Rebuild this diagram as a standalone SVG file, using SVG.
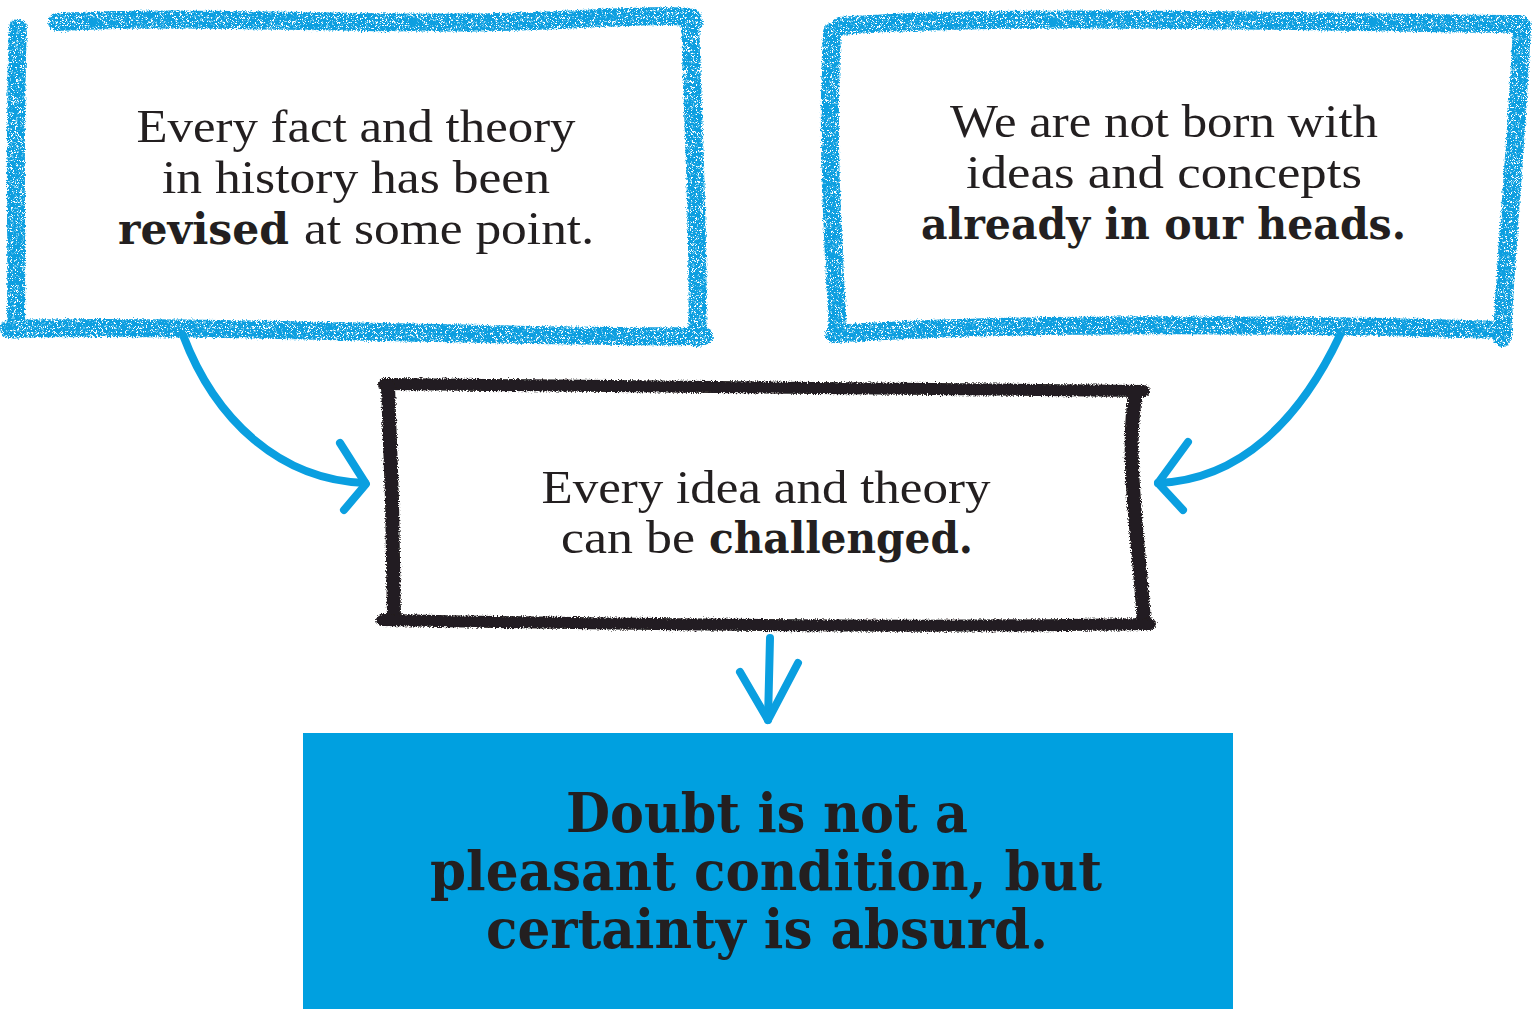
<svg xmlns="http://www.w3.org/2000/svg" width="1536" height="1009" viewBox="0 0 1536 1009">
<defs>
<filter id="rough" x="-5%" y="-5%" width="110%" height="110%">
<feTurbulence type="fractalNoise" baseFrequency="0.8" numOctaves="2" seed="3" result="n"/>
<feColorMatrix in="n" type="matrix" values="0 0 0 0 0  0 0 0 0 0  0 0 0 0 0  10 0 0 0 -3.6" result="m"/>
<feComposite in="SourceGraphic" in2="m" operator="in" result="s"/>
<feDisplacementMap in="s" in2="n" scale="5" xChannelSelector="R" yChannelSelector="G"/>
</filter>
<filter id="roughk" x="-5%" y="-5%" width="110%" height="110%">
<feTurbulence type="fractalNoise" baseFrequency="0.8" numOctaves="2" seed="7" result="n"/>
<feDisplacementMap in="SourceGraphic" in2="n" scale="5" xChannelSelector="R" yChannelSelector="G"/>
</filter>
<style>
.blue{fill:none;stroke:#0a9fe0;stroke-width:18;stroke-linecap:round;stroke-linejoin:round}
.black{fill:none;stroke:#231f20;stroke-width:12;stroke-linecap:round;stroke-linejoin:round}
.arrow{fill:none;stroke:#0a9fe0;stroke-width:8;stroke-linecap:round;stroke-linejoin:round}
.lt{font-family:"Liberation Serif","DejaVu Serif",serif;font-size:46px;fill:#231f20;text-anchor:middle}
.ls{font-family:"Liberation Serif","DejaVu Serif",serif;font-size:46px;fill:#231f20}
.bs{font-family:"DejaVu Serif","Liberation Serif",serif;font-weight:bold;font-size:42px;fill:#231f20}
.big{font-family:"DejaVu Serif","Liberation Serif",serif;font-weight:bold;font-size:54px;fill:#231f20;text-anchor:middle}
</style>
</defs>
<rect width="1536" height="1009" fill="#ffffff"/>
<g id="connectors">
<path class="arrow" d="M183,335 C215,420 280,480 365,483"/>
<path class="arrow" d="M340,443 L366,484 L344,510"/>
<path class="arrow" d="M1340,335 C1300,420 1240,480 1158,483"/>
<path class="arrow" d="M1188,442 L1158,483 L1183,510"/>
<path class="arrow" d="M770,638 L768,720"/>
<path class="arrow" d="M740,672 L768,720 L798,663"/>
</g>
<g id="node1">
<g filter="url(#rough)">
<path class="blue" d="M57,22 C200,14 400,28 560,20 S688,18 694,22"/>
<path class="blue" d="M18,28 C14,120 17,220 16,330"/>
<path class="blue" d="M9,329 C200,324 500,338 704,336"/>
<path class="blue" d="M690,20 C692,100 700,250 697,338"/>
</g>
<text class="lt" x="356" y="142" textLength="439" lengthAdjust="spacingAndGlyphs">Every fact and theory</text>
<text class="lt" x="356" y="193" textLength="388" lengthAdjust="spacingAndGlyphs">in history has been</text>
<text class="bs" x="118" y="244" textLength="171" lengthAdjust="spacingAndGlyphs">revised</text>
<text class="ls" x="304" y="244" textLength="290" lengthAdjust="spacingAndGlyphs">at some point.</text>
</g>
<g id="node2">
<g filter="url(#rough)">
<path class="blue" d="M840,26 C1000,14 1300,22 1520,24"/>
<path class="blue" d="M832,32 C826,150 834,250 838,334"/>
<path class="blue" d="M834,334 C1000,322 1300,324 1504,330"/>
<path class="blue" d="M1522,26 C1516,150 1506,250 1502,338"/>
</g>
<text class="lt" x="1164" y="137" textLength="428" lengthAdjust="spacingAndGlyphs">We are not born with</text>
<text class="lt" x="1164" y="188" textLength="396" lengthAdjust="spacingAndGlyphs">ideas and concepts</text>
<text class="bs" x="921" y="239" textLength="485" lengthAdjust="spacingAndGlyphs">already in our heads.</text>
</g>
<g id="node3">
<g filter="url(#roughk)">
<path class="black" d="M384,384 L1144,391"/>
<path class="black" d="M388,386 L392,500 L394,618" style="stroke-width:14"/>
<path class="black" d="M1136,392 C1124,450 1140,550 1144,624" style="stroke-width:14"/>
<path class="black" d="M382,620 C600,624 900,628 1150,624"/>
</g>
<text class="lt" x="766" y="503" textLength="449" lengthAdjust="spacingAndGlyphs">Every idea and theory</text>
<text class="ls" x="561" y="553" textLength="134" lengthAdjust="spacingAndGlyphs">can be</text>
<text class="bs" x="709" y="553" textLength="264" lengthAdjust="spacingAndGlyphs">challenged.</text>
</g>
<g id="node4">
<rect x="303" y="733" width="930" height="276" fill="#00a0e0"/>
<text class="big" x="767" y="832" textLength="402" lengthAdjust="spacingAndGlyphs">Doubt is not a</text>
<text class="big" x="766" y="890" textLength="672" lengthAdjust="spacingAndGlyphs">pleasant condition, but</text>
<text class="big" x="767" y="948" textLength="562" lengthAdjust="spacingAndGlyphs">certainty is absurd.</text>
</g>
</svg>
